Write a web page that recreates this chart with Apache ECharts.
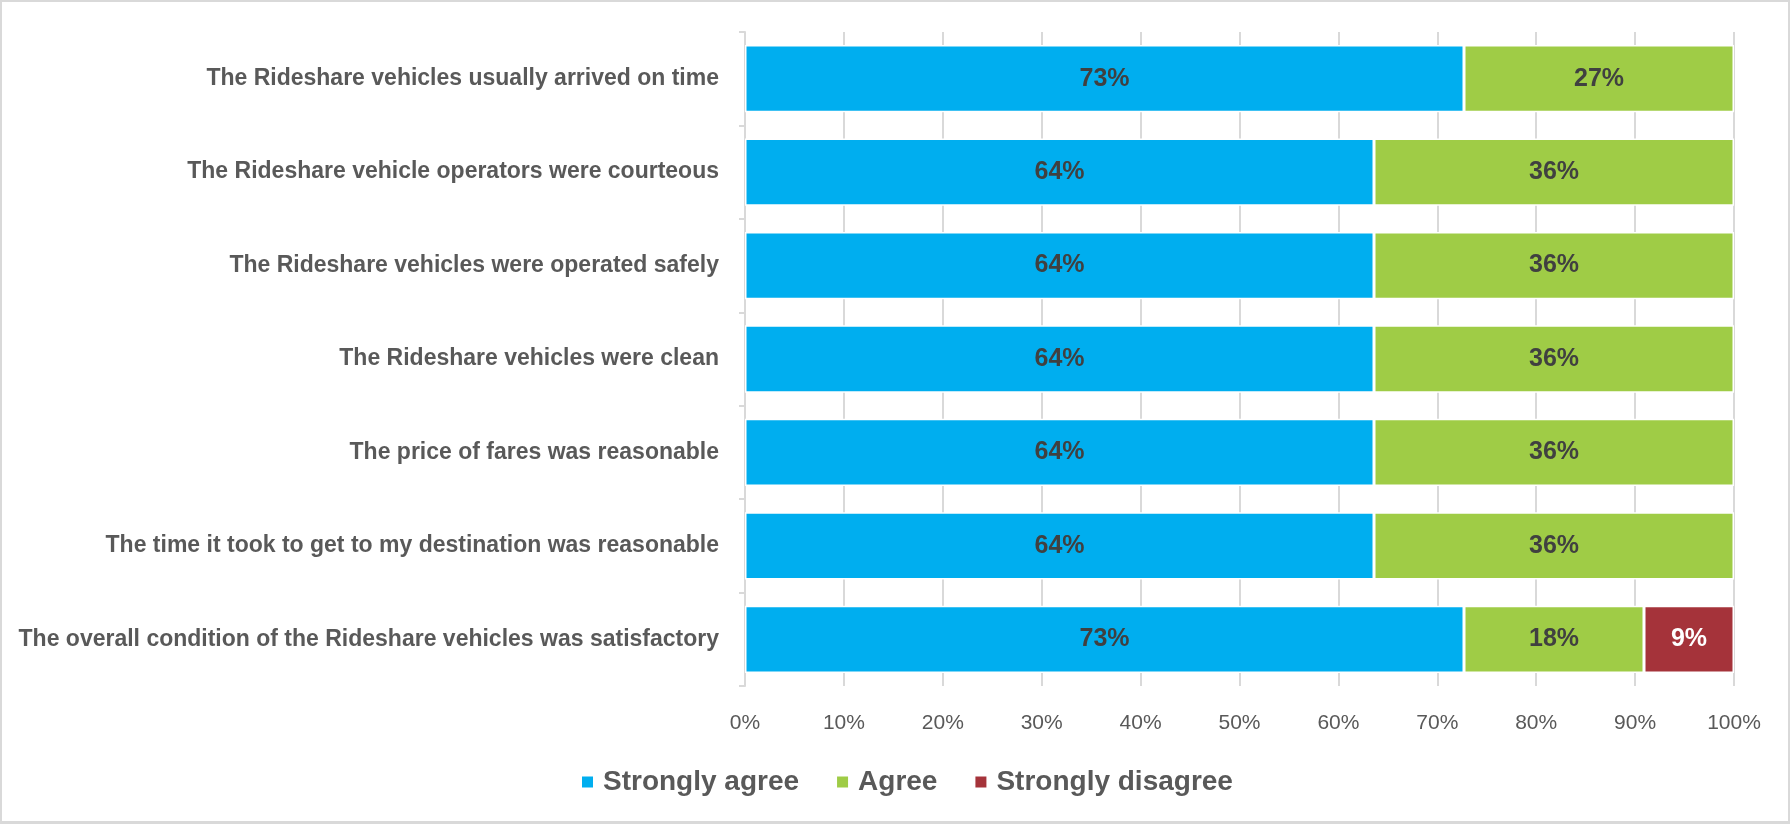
<!DOCTYPE html>
<html>
<head>
<meta charset="utf-8">
<script src="https://cdn.jsdelivr.net/npm/echarts@6/dist/echarts.min.js"></script>
<style>
html,body{margin:0;padding:0;background:#fff;}
#chart{width:1790px;height:824px;box-sizing:border-box;border:2px solid #d9d9d9;border-bottom-width:3px;}
</style>
</head>
<body>
<div id="chart"></div>
<script>
const categories = [
  "The Rideshare vehicles usually arrived on time",
  "The Rideshare vehicle operators were courteous",
  "The Rideshare vehicles were operated safely",
  "The Rideshare vehicles were clean",
  "The price of fares was reasonable",
  "The time it took to get to my destination was reasonable",
  "The overall condition of the Rideshare vehicles was satisfactory"
];
const seriesNames = ["Strongly agree", "Agree", "Strongly disagree"];
const stronglyAgree = [72.7, 63.6, 63.6, 63.6, 63.6, 63.6, 72.7];
const agree = [27.3, 36.4, 36.4, 36.4, 36.4, 36.4, 18.2];
const stronglyDisagree = [0, 0, 0, 0, 0, 0, 9.1];
const xTicks = [0, 10, 20, 30, 40, 50, 60, 70, 80, 90, 100];
const colors = ["#00AEEF", "#9FCC46", "#A5333A"];
const labelColors = ["#404040", "#404040", "#ffffff"];
const FONT = "'Liberation Sans', Arial, sans-serif";

const chart = echarts.init(document.getElementById('chart'));
const allData = [stronglyAgree, agree, stronglyDisagree];
chart.setOption({
  animation: false,
  textStyle: {fontFamily: FONT},
  grid: {left: 743, right: 54, top: 30, bottom: 135, containLabel: false},
  legend: {
    data: seriesNames,
    bottom: 20,
    left: 573,
    itemWidth: 13, itemHeight: 13, itemGap: 36,
    icon: 'rect',
    textStyle: {fontFamily: FONT, fontSize: 28, fontWeight: 'bold', color: '#595959', padding: [0,0,0,4]}
  },
  xAxis: {
    type: 'value', min: xTicks[0], max: xTicks[xTicks.length-1], interval: 10,
    axisLine: {show: false}, axisTick: {show: false},
    splitLine: {show: true, lineStyle: {color: '#d9d9d9', width: 2}},
    axisLabel: {formatter: v => v + '%', fontSize: 21, color: '#595959', margin: 27, fontFamily: FONT}
  },
  yAxis: {
    type: 'category', data: categories, inverse: true,
    axisLine: {show: true, lineStyle: {color: '#d9d9d9', width: 2}},
    axisTick: {show: true, length: 6, lineStyle: {color: '#d9d9d9', width: 2}},
    axisLabel: {fontSize: 23, fontWeight: 'bold', color: '#595959', margin: 26, fontFamily: FONT}
  },
  series: seriesNames.map((name, i) => ({
    name: name,
    type: 'bar',
    stack: 'total',
    barCategoryGap: '28%',
    data: allData[i].map(v => v === 0 ? null : v),
    itemStyle: {color: colors[i], borderColor: '#fff', borderWidth: 1.5},
    label: {
      show: true, position: 'inside',
      formatter: p => Math.round(p.value) + '%',
      fontSize: 25, fontWeight: 'bold', color: labelColors[i], fontFamily: FONT
    }
  }))
});
</script>
</body>
</html>
